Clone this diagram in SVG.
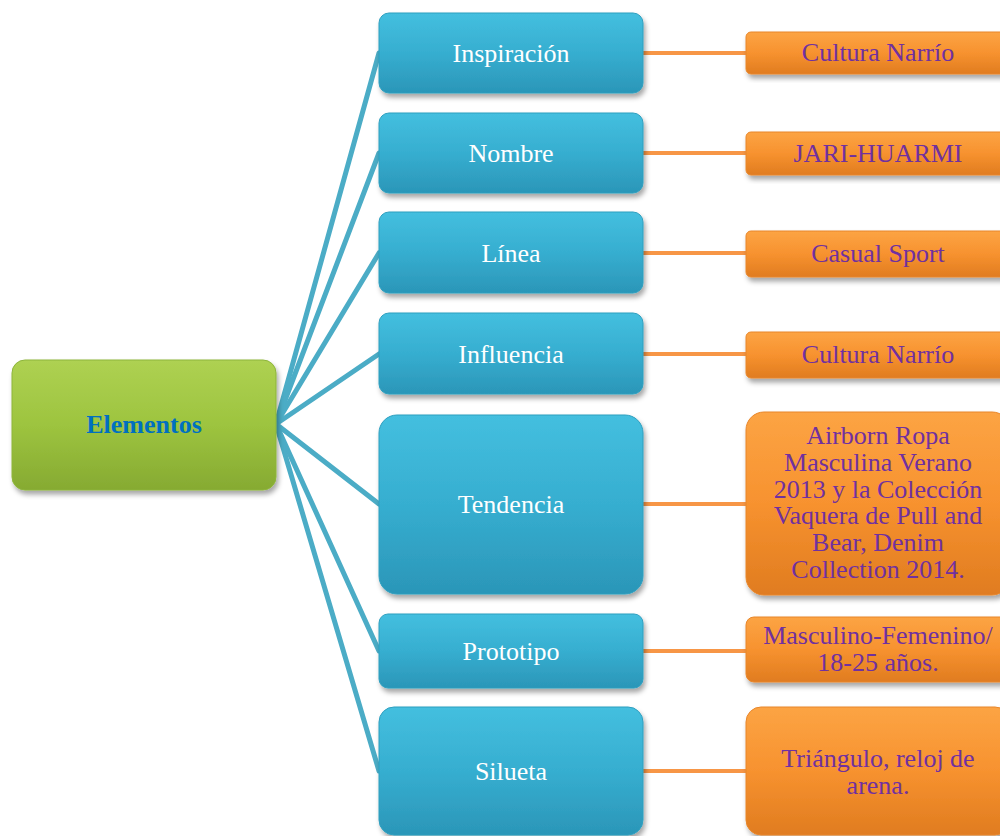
<svg xmlns="http://www.w3.org/2000/svg" width="1000" height="836" viewBox="0 0 1000 836">
<defs>
<linearGradient id="gBlue" x1="0" y1="0" x2="0" y2="1">
<stop offset="0" stop-color="#44bfdf"/><stop offset="0.5" stop-color="#36aed0"/><stop offset="1" stop-color="#2b96b8"/>
</linearGradient>
<linearGradient id="gGreen" x1="0" y1="0" x2="0" y2="1">
<stop offset="0" stop-color="#aed152"/><stop offset="0.5" stop-color="#9dc43f"/><stop offset="1" stop-color="#86aa32"/>
</linearGradient>
<linearGradient id="gOrange" x1="0" y1="0" x2="0" y2="1">
<stop offset="0" stop-color="#fca444"/><stop offset="0.5" stop-color="#f7922f"/><stop offset="1" stop-color="#e07c20"/>
</linearGradient>
<filter id="sh" x="-10%" y="-10%" width="125%" height="130%">
<feDropShadow dx="2" dy="4" stdDeviation="2.5" flood-color="#000" flood-opacity="0.35"/>
</filter>
<style>
.blue{fill:url(#gBlue);stroke:#2f9fbf;stroke-width:1;filter:url(#sh)}
.green{fill:url(#gGreen);stroke:#8db53a;stroke-width:1;filter:url(#sh)}
.orange{fill:url(#gOrange);stroke:#e8862a;stroke-width:1;filter:url(#sh)}
.tb{font-family:"Liberation Serif","Times New Roman",serif;font-size:26px;fill:#ffffff;text-anchor:middle}
.to{font-family:"Liberation Serif","Times New Roman",serif;font-size:26px;fill:#7030a0;text-anchor:middle}
.tg{font-family:"Liberation Serif","Times New Roman",serif;font-size:26px;font-weight:bold;fill:#0070c0;text-anchor:middle}
.cb{stroke:#4bacc6;stroke-width:5;fill:none;stroke-linecap:round}
.co{stroke:#f79646;stroke-width:4;fill:none}
</style>
</defs>
<rect width="1000" height="836" fill="#ffffff"/>
<g id="connectors">
<line class="cb" x1="276" y1="424" x2="379" y2="53"/>
<line class="cb" x1="276" y1="424" x2="379" y2="153"/>
<line class="cb" x1="276" y1="424" x2="379" y2="253"/>
<line class="cb" x1="276" y1="424" x2="379" y2="354"/>
<line class="cb" x1="276" y1="424" x2="379" y2="504"/>
<line class="cb" x1="276" y1="424" x2="379" y2="651"/>
<line class="cb" x1="276" y1="424" x2="379" y2="771"/>
<line class="co" x1="643" y1="53" x2="746" y2="53"/>
<line class="co" x1="643" y1="153" x2="746" y2="153"/>
<line class="co" x1="643" y1="253" x2="746" y2="253"/>
<line class="co" x1="643" y1="354" x2="746" y2="354"/>
<line class="co" x1="643" y1="504" x2="746" y2="504"/>
<line class="co" x1="643" y1="651" x2="746" y2="651"/>
<line class="co" x1="643" y1="771" x2="746" y2="771"/>
</g>
<g id="elementos"><rect class="green" x="12" y="360" width="264" height="130" rx="13"/><text class="tg" x="144" y="433">Elementos</text></g>
<g id="inspiracion"><rect class="blue" x="379" y="13" width="264" height="80" rx="10"/><text class="tb" x="511" y="62">Inspiración</text></g>
<g id="nombre"><rect class="blue" x="379" y="113" width="264" height="80" rx="10"/><text class="tb" x="511" y="162">Nombre</text></g>
<g id="linea"><rect class="blue" x="379" y="212" width="264" height="81" rx="10"/><text class="tb" x="511" y="262">Línea</text></g>
<g id="influencia"><rect class="blue" x="379" y="313" width="264" height="81" rx="10"/><text class="tb" x="511" y="363">Influencia</text></g>
<g id="tendencia"><rect class="blue" x="379" y="415" width="264" height="179" rx="18"/><text class="tb" x="511" y="513">Tendencia</text></g>
<g id="prototipo"><rect class="blue" x="379" y="614" width="264" height="74" rx="9"/><text class="tb" x="511" y="660">Prototipo</text></g>
<g id="silueta"><rect class="blue" x="379" y="707" width="264" height="128" rx="15"/><text class="tb" x="511" y="780">Silueta</text></g>
<g id="o-inspiracion"><rect class="orange" x="746" y="32" width="264" height="42" rx="5"/><text class="to" x="878" y="61">Cultura Narrío</text></g>
<g id="o-nombre"><rect class="orange" x="746" y="132" width="264" height="43" rx="5"/><text class="to" x="878" y="162">JARI-HUARMI</text></g>
<g id="o-linea"><rect class="orange" x="746" y="231" width="264" height="46" rx="5"/><text class="to" x="878" y="262">Casual Sport</text></g>
<g id="o-influencia"><rect class="orange" x="746" y="332" width="264" height="46" rx="5"/><text class="to" x="878" y="363">Cultura Narrío</text></g>
<g id="o-tendencia"><rect class="orange" x="746" y="412" width="264" height="183" rx="18"/><text class="to" x="878" y="444">Airborn Ropa<tspan x="878" dy="26.8">Masculina Verano</tspan><tspan x="878" dy="26.8">2013 y la Colección</tspan><tspan x="878" dy="26.8">Vaquera de Pull and</tspan><tspan x="878" dy="26.8">Bear, Denim</tspan><tspan x="878" dy="26.8">Collection 2014.</tspan></text></g>
<g id="o-prototipo"><rect class="orange" x="746" y="617" width="264" height="65" rx="8"/><text class="to" x="878" y="644">Masculino-Femenino/<tspan x="878" dy="27">18-25 años.</tspan></text></g>
<g id="o-silueta"><rect class="orange" x="746" y="707" width="264" height="128" rx="15"/><text class="to" x="878" y="767">Triángulo, reloj de<tspan x="878" dy="26.5">arena.</tspan></text></g>
</svg>
